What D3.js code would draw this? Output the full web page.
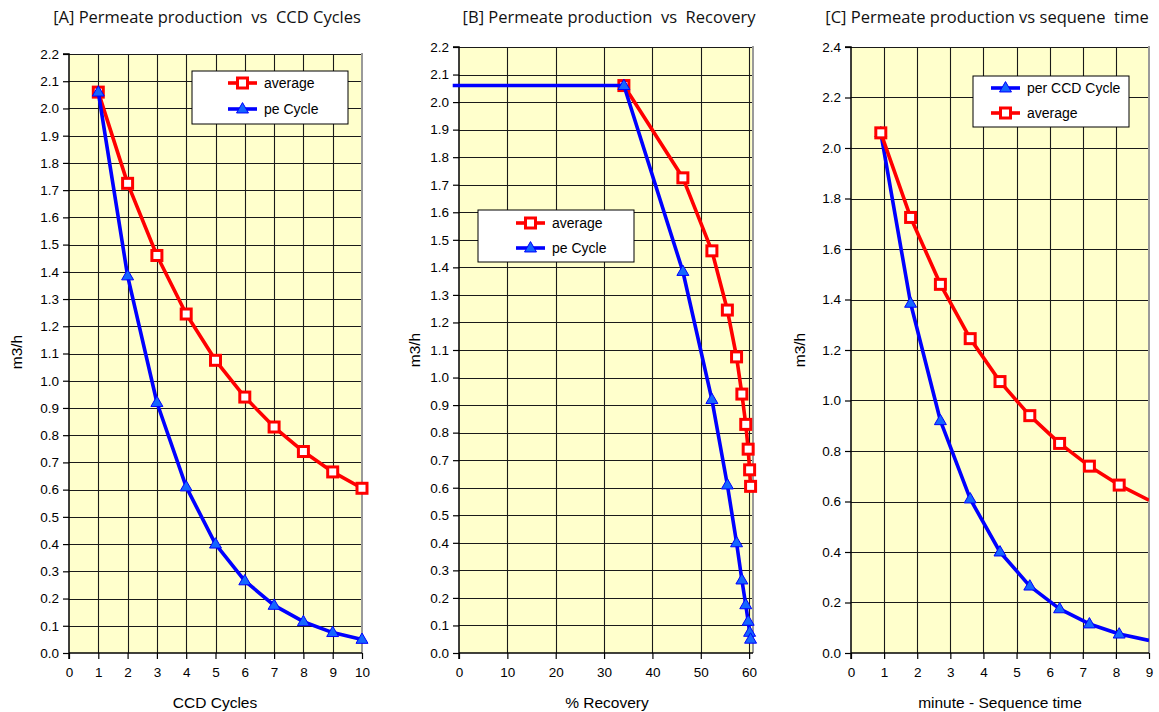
<!DOCTYPE html>
<html>
<head>
<meta charset="utf-8">
<script src="https://cdn.jsdelivr.net/npm/d3@7"></script>
<style>
  html, body { margin: 0; padding: 0; background: #fff; }
  svg { display: block; }
  text { white-space: pre; }
</style>
</head>
<body>
<svg id="chart" width="1159" height="712"></svg>
<script>
// ---------------- DATA ----------------
const cyclesA = [1, 2, 3, 4, 5, 6, 7, 8, 9, 10];
const averageFlow = [2.06, 1.725, 1.46, 1.245, 1.075, 0.94, 0.83, 0.74, 0.665, 0.605];
const perCycleFlow = [2.06, 1.385, 0.92, 0.61, 0.40, 0.265, 0.175, 0.115, 0.075, 0.05];
const recoveryB = [34.1, 46.3, 52.3, 55.5, 57.4, 58.5, 59.3, 59.8, 60.1, 60.3];
const leadRecoveryB = [-1.3];   // blue line run-in from left of the axis
const leadFlowB = [2.06];
const timeC = [0.9, 1.8, 2.7, 3.6, 4.5, 5.4, 6.3, 7.2, 8.1, 9.0];

const ticksA_x = [0, 1, 2, 3, 4, 5, 6, 7, 8, 9, 10];
const ticksA_y = d3.range(0, 23).map(i => i / 10);
const ticksB_x = [0, 10, 20, 30, 40, 50, 60];
const ticksB_y = d3.range(0, 23).map(i => i / 10);
const ticksC_x = [0, 1, 2, 3, 4, 5, 6, 7, 8, 9];
const ticksC_y = [0, 0.2, 0.4, 0.6, 0.8, 1.0, 1.2, 1.4, 1.6, 1.8, 2.0, 2.2, 2.4];

const titles = [
  "[A] Permeate production  vs  CCD Cycles",
  "[B] Permeate production  vs  Recovery",
  "[C] Permeate production vs sequene  time"
];
const xTitles = ["CCD Cycles", "% Recovery", "minute - Sequence time"];
const yTitle = "m3/h";
const legendA = ["average", "pe Cycle"];
const legendB = ["average", "pe Cycle"];
const legendC = ["per CCD Cycle", "average"];

// ---------------- STYLE ----------------
const RED = "#FF0000";
const BLUE = "#0000FF";
const TRI_FILL = "#1466FF";
const BG = "#FFFFCC";
const GRID = "#1a1a1a";
const tickFont = "'Liberation Sans', Arial, sans-serif";
const titleFont = "'Open Sans', 'Noto Sans', sans-serif";

const svg = d3.select("#chart");

function drawPanel(cfg) {
  const g = svg.append("g");
  const x = d3.scaleLinear().domain(cfg.xDomain).range([cfg.left, cfg.right]);
  const y = d3.scaleLinear().domain(cfg.yDomain).range([cfg.bottom, cfg.top]);
  const clipId = "clip" + cfg.id;
  svg.append("clipPath").attr("id", clipId)
    .append("rect").attr("x", cfg.left - 10).attr("y", cfg.top - 10)
    .attr("width", cfg.right - cfg.left + (cfg.clipRight ? 10 : 20)).attr("height", cfg.bottom - cfg.top + 20);

  // background
  g.append("rect").attr("x", cfg.left).attr("y", cfg.top)
    .attr("width", cfg.right - cfg.left).attr("height", cfg.bottom - cfg.top)
    .attr("fill", BG);

  // grid lines
  g.append("g").selectAll("line").data(cfg.yTicks.filter(v => v > 0)).join("line")
    .attr("x1", cfg.left).attr("x2", cfg.right)
    .attr("y1", d => Math.round(y(d)) + 0.5).attr("y2", d => Math.round(y(d)) + 0.5)
    .attr("stroke", GRID).attr("stroke-width", 1.1);
  g.append("g").selectAll("line").data(cfg.xTicks.filter(v => v > cfg.xDomain[0] && v < cfg.xDomain[1] - 0.01)).join("line")
    .attr("y1", cfg.top).attr("y2", cfg.bottom)
    .attr("x1", d => Math.round(x(d)) + 0.5).attr("x2", d => Math.round(x(d)) + 0.5)
    .attr("stroke", GRID).attr("stroke-width", 1.1);

  // right border grey
  g.append("line").attr("x1", cfg.right).attr("x2", cfg.right)
    .attr("y1", cfg.top - 1).attr("y2", cfg.bottom)
    .attr("stroke", "#9a9a9a").attr("stroke-width", 2);

  // axes
  const yAxis = d3.axisLeft(y).tickValues(cfg.yTicks).tickSize(6).tickPadding(4)
    .tickFormat(d3.format(".1f"));
  const ya = g.append("g").attr("transform", `translate(${cfg.left},0)`).call(yAxis);
  const xAxis = d3.axisBottom(x).tickValues(cfg.xTicks).tickSize(6).tickPadding(8)
    .tickFormat(d3.format("d"));
  const xa = g.append("g").attr("transform", `translate(0,${cfg.bottom})`).call(xAxis);
  [ya, xa].forEach(a => {
    a.select(".domain").attr("stroke", "#000").attr("stroke-width", 1.5);
    a.selectAll(".tick line").attr("stroke", "#000").attr("stroke-width", 1.2);
    a.selectAll(".tick text").attr("font-family", tickFont).attr("font-size", 13.5).attr("fill", "#000");
  });
  ya.select(".domain").attr("d", `M-6,${y(cfg.yDomain[1])}H0V${cfg.bottom + 6}`);
  xa.select(".domain").attr("d", `M${cfg.left},0H${cfg.right}`);

  // series
  const plot = g.append("g").attr("clip-path", `url(#${clipId})`);
  cfg.series.forEach(s => {
    const pts = s.xs.map((xv, i) => ({ x: xv, y: s.ys[i] }));
    const linePts = (s.leadX ? s.leadX.map((xv, i) => ({ x: xv, y: s.leadY[i] })) : []).concat(pts);
    plot.append("path").datum(linePts)
      .attr("d", d3.line().x(d => x(d.x)).y(d => y(d.y)))
      .attr("fill", "none").attr("stroke", s.color).attr("stroke-width", 3.6)
      .attr("stroke-linejoin", "round");
    const mpts = cfg.clipRight ? pts.filter(d => d.x < cfg.xDomain[1] - 0.01) : pts;
    if (s.type === "square") {
      plot.append("g").selectAll("rect").data(mpts).join("rect")
        .attr("x", d => x(d.x) - 5).attr("y", d => y(d.y) - 5)
        .attr("width", 10).attr("height", 10)
        .attr("fill", "#fff").attr("stroke", RED).attr("stroke-width", 3);
    } else {
      plot.append("g").selectAll("path").data(mpts).join("path")
        .attr("d", d3.symbol().type(d3.symbolTriangle).size(62)())
        .attr("transform", d => `translate(${x(d.x)},${y(d.y) + 0.5})`)
        .attr("fill", TRI_FILL).attr("stroke", BLUE).attr("stroke-width", 1);
    }
  });

  // title
  svg.append("text").attr("x", cfg.titleX).attr("y", 23).attr("text-anchor", "middle")
    .attr("font-family", titleFont).attr("font-size", 16.5).attr("fill", "#111")
    .text(cfg.title);
  // x title
  svg.append("text").attr("x", cfg.xTitleX).attr("y", 708).attr("text-anchor", "middle")
    .attr("font-family", tickFont).attr("font-size", 15.5).attr("fill", "#000")
    .text(cfg.xTitle);
  // y title
  svg.append("text").attr("transform", `translate(${cfg.yTitleX},${cfg.yTitleY}) rotate(-90)`)
    .attr("text-anchor", "middle")
    .attr("font-family", tickFont).attr("font-size", 15.5).attr("fill", "#000")
    .text(yTitle);

  // legend
  const L = cfg.legend;
  const lg = svg.append("g");
  lg.append("rect").attr("x", L.x).attr("y", L.y).attr("width", L.w).attr("height", L.h)
    .attr("fill", "#fff").attr("stroke", "#000").attr("stroke-width", 1);
  L.items.forEach((it, i) => {
    const cy = L.y + L.firstDy + i * L.step;
    lg.append("line").attr("x1", L.lineX).attr("x2", L.lineX + 29)
      .attr("y1", cy).attr("y2", cy).attr("stroke", it.color).attr("stroke-width", 3.6);
    const mx = L.lineX + 14.5;
    if (it.type === "square") {
      lg.append("rect").attr("x", mx - 5).attr("y", cy - 5).attr("width", 10).attr("height", 10)
        .attr("fill", "#fff").attr("stroke", RED).attr("stroke-width", 3);
    } else {
      lg.append("path").attr("d", d3.symbol().type(d3.symbolTriangle).size(62)())
        .attr("transform", `translate(${mx},${cy + 0.5})`)
        .attr("fill", TRI_FILL).attr("stroke", BLUE).attr("stroke-width", 1);
    }
    lg.append("text").attr("x", L.lineX + 36).attr("y", cy + 5)
      .attr("font-family", tickFont).attr("font-size", 14).attr("fill", "#000")
      .text(it.label);
  });
}

// Panel A
drawPanel({
  id: "A", left: 69, right: 362, top: 54, bottom: 653,
  xDomain: [0, 10], yDomain: [0, 2.2], xTicks: ticksA_x, yTicks: ticksA_y,
  title: titles[0], titleX: 207, xTitle: xTitles[0], xTitleX: 215,
  yTitleX: 22, yTitleY: 352, clipRight: false,
  series: [
    { xs: cyclesA, ys: averageFlow, color: RED, type: "square" },
    { xs: cyclesA, ys: perCycleFlow, color: BLUE, type: "tri" }
  ],
  legend: { x: 192, y: 71, w: 156, h: 53, firstDy: 12, step: 26, lineX: 228,
    items: [{ label: legendA[0], color: RED, type: "square" }, { label: legendA[1], color: BLUE, type: "tri" }] }
});

// Panel B
drawPanel({
  id: "B", left: 459, right: 753, top: 47, bottom: 653,
  xDomain: [0, 60.8], yDomain: [0, 2.2], xTicks: ticksB_x, yTicks: ticksB_y,
  title: titles[1], titleX: 609, xTitle: xTitles[1], xTitleX: 607,
  yTitleX: 420, yTitleY: 350, clipRight: false,
  series: [
    { xs: recoveryB, ys: averageFlow, color: RED, type: "square" },
    { xs: recoveryB, ys: perCycleFlow, color: BLUE, type: "tri", leadX: leadRecoveryB, leadY: leadFlowB }
  ],
  legend: { x: 478, y: 210, w: 156, h: 52, firstDy: 13, step: 25, lineX: 516,
    items: [{ label: legendB[0], color: RED, type: "square" }, { label: legendB[1], color: BLUE, type: "tri" }] }
});

// Panel C
drawPanel({
  id: "C", left: 851, right: 1149, top: 47, bottom: 653,
  xDomain: [0, 9], yDomain: [0, 2.4], xTicks: ticksC_x, yTicks: ticksC_y,
  title: titles[2], titleX: 987, xTitle: xTitles[2], xTitleX: 1000,
  yTitleX: 805, yTitleY: 350, clipRight: true,
  series: [
    { xs: timeC, ys: perCycleFlow, color: BLUE, type: "tri" },
    { xs: timeC, ys: averageFlow, color: RED, type: "square" }
  ],
  legend: { x: 973, y: 76, w: 156, h: 51, firstDy: 12, step: 25, lineX: 991,
    items: [{ label: legendC[0], color: BLUE, type: "tri" }, { label: legendC[1], color: RED, type: "square" }] }
});
</script>
</body>
</html>
